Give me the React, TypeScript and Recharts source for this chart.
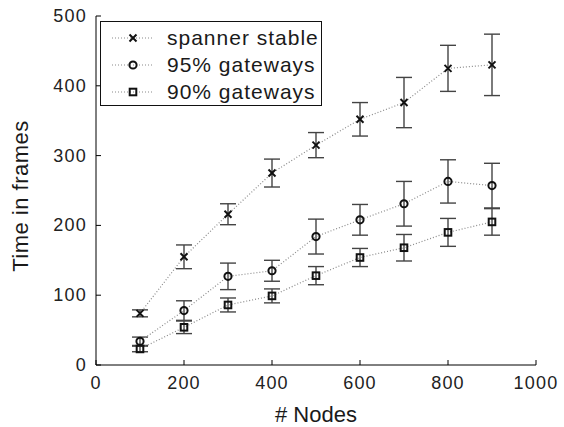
import { ErrorBar, Label, Line, LineChart, XAxis, YAxis } from "recharts";

const nodes = [100, 200, 300, 400, 500, 600, 700, 800, 900];
const spannerMean = [74, 155, 216, 275, 315, 352, 376, 425, 430];
const spannerErr = [5, 17, 15, 20, 18, 24, 36, 33, 44];
const gw95Mean = [34, 78, 127, 135, 184, 208, 231, 263, 257];
const gw95Err = [6, 14, 19, 15, 25, 22, 32, 31, 32];
const gw90Mean = [23, 54, 86, 99, 128, 154, 168, 190, 205];
const gw90Err = [4, 9, 10, 10, 13, 13, 19, 20, 19];

const xTicks = [0, 200, 400, 600, 800, 1000];
const yTicks = [0, 100, 200, 300, 400, 500];

const data = nodes.map((n, i) => ({
  nodes: n,
  spanner: spannerMean[i],
  spannerErr: spannerErr[i],
  gw95: gw95Mean[i],
  gw95Err: gw95Err[i],
  gw90: gw90Mean[i],
  gw90Err: gw90Err[i],
}));

const FONT = '"Liberation Sans", Arial, Helvetica, sans-serif';
const LINE_GREY = "#8a8a8a";

type Shape = "cross" | "circle" | "square";

function Marker({ cx, cy, shape }: { cx: number; cy: number; shape: Shape }) {
  if (shape === "cross") {
    const r = 3.5;
    return (
      <g stroke="#111" strokeWidth={2}>
        <line x1={cx - r} y1={cy - r} x2={cx + r} y2={cy + r} />
        <line x1={cx - r} y1={cy + r} x2={cx + r} y2={cy - r} />
      </g>
    );
  }
  if (shape === "circle") {
    return <circle cx={cx} cy={cy} r={3.6} fill="none" stroke="#111" strokeWidth={2} />;
  }
  return <rect x={cx - 3.3} y={cy - 3.3} width={6.6} height={6.6} fill="none" stroke="#111" strokeWidth={2} />;
}

const makeDot = (shape: Shape) => (props: any) => (
  <Marker key={`${shape}-${props.index}`} cx={props.cx} cy={props.cy} shape={shape} />
);

const BottomTick = (props: any) => {
  const { x, y, payload } = props;
  return (
    <g>
      <line x1={x} y1={y} x2={x} y2={y - 5} stroke="#000" />
      <text x={x} y={y + 24} textAnchor="middle" fontSize={18} letterSpacing={1.2} fontFamily={FONT} fill="#222">
        {payload.value}
      </text>
    </g>
  );
};

const TopTick = (props: any) => {
  const { x, y } = props;
  return <line x1={x} y1={y} x2={x} y2={y + 5} stroke="#000" />;
};

const LeftTick = (props: any) => {
  const { x, y, payload } = props;
  return (
    <g>
      <line x1={x} y1={y} x2={x + 5} y2={y} stroke="#000" />
      <text x={x - 9} y={y + 6} textAnchor="end" fontSize={18} letterSpacing={1.2} fontFamily={FONT} fill="#222">
        {payload.value}
      </text>
    </g>
  );
};

const RightTick = (props: any) => {
  const { x, y } = props;
  return <line x1={x} y1={y} x2={x - 5} y2={y} stroke="#000" />;
};

const legendItems: { label: string; shape: Shape }[] = [
  { label: "spanner stable", shape: "cross" },
  { label: "95% gateways", shape: "circle" },
  { label: "90% gateways", shape: "square" },
];

function LegendBox() {
  return (
    <div
      style={{
        position: "absolute",
        left: 100,
        top: 21,
        width: 222,
        height: 85,
        border: "1px solid #111",
        background: "#fff",
        fontFamily: FONT,
        fontSize: 21,
        letterSpacing: 1,
        color: "#1a1a1a",
        boxSizing: "border-box",
        paddingTop: 3,
        whiteSpace: "nowrap",
      }}
    >
      {legendItems.map((item) => (
        <div key={item.label} style={{ display: "flex", alignItems: "center", height: 26.7 }}>
          <svg width={62} height={20} style={{ flex: "none" }}>
            <line x1={11} y1={10} x2={51} y2={10} stroke={LINE_GREY} strokeWidth={1.2} strokeDasharray="1 2" />
            <Marker cx={32} cy={10} shape={item.shape} />
          </svg>
          <span style={{ marginLeft: 4, lineHeight: "20px" }}>{item.label}</span>
        </div>
      ))}
    </div>
  );
}

export default function App() {
  return (
    <div style={{ position: "absolute", left: 0, top: 0, width: 564, height: 427, background: "#fff" }}>
      <LineChart width={564} height={427} data={data} margin={{ top: 16, right: 28, left: 0, bottom: 0 }}>
        <XAxis
          xAxisId="bottom"
          dataKey="nodes"
          type="number"
          domain={[0, 1000]}
          ticks={xTicks}
          height={62}
          tickSize={0}
          tickMargin={0}
          tickLine={false}
          tick={<BottomTick />}
          axisLine={{ stroke: "#000" }}
          interval={0}
        >
          <Label
            value="# Nodes"
            position="insideBottom"
            offset={5}
            style={{ fontSize: 22, fontFamily: FONT, fill: "#1a1a1a" }}
          />
        </XAxis>
        <XAxis
          xAxisId="top"
          orientation="top"
          dataKey="nodes"
          type="number"
          domain={[0, 1000]}
          ticks={xTicks}
          height={0}
          tickSize={0}
          tickMargin={0}
          tickLine={false}
          tick={<TopTick />}
          axisLine={{ stroke: "#000" }}
          interval={0}
        />
        <YAxis
          yAxisId="left"
          type="number"
          domain={[0, 500]}
          ticks={yTicks}
          width={96}
          tickSize={0}
          tickMargin={0}
          tickLine={false}
          tick={<LeftTick />}
          axisLine={{ stroke: "#000" }}
          interval={0}
        >
          <Label
            content={() => (
              <text
                x={28}
                y={196}
                transform="rotate(-90 28 196)"
                textAnchor="middle"
                fontSize={22}
                letterSpacing={0.5}
                fontFamily={FONT}
                fill="#1a1a1a"
              >
                Time in frames
              </text>
            )}
          />
        </YAxis>
        <YAxis
          yAxisId="right"
          orientation="right"
          type="number"
          domain={[0, 500]}
          ticks={yTicks}
          width={0}
          tickSize={0}
          tickMargin={0}
          tickLine={false}
          tick={<RightTick />}
          axisLine={{ stroke: "#000" }}
          interval={0}
        />
        <Line
          xAxisId="bottom"
          yAxisId="left"
          dataKey="spanner"
          stroke={LINE_GREY}
          strokeWidth={1.2}
          strokeDasharray="1 2"
          dot={makeDot("cross")}
          activeDot={false}
          isAnimationActive={false}
        >
          <ErrorBar dataKey="spannerErr" width={8} stroke="#444" strokeWidth={1.4} direction="y" />
        </Line>
        <Line
          xAxisId="bottom"
          yAxisId="left"
          dataKey="gw95"
          stroke={LINE_GREY}
          strokeWidth={1.2}
          strokeDasharray="1 2"
          dot={makeDot("circle")}
          activeDot={false}
          isAnimationActive={false}
        >
          <ErrorBar dataKey="gw95Err" width={8} stroke="#444" strokeWidth={1.4} direction="y" />
        </Line>
        <Line
          xAxisId="bottom"
          yAxisId="left"
          dataKey="gw90"
          stroke={LINE_GREY}
          strokeWidth={1.2}
          strokeDasharray="1 2"
          dot={makeDot("square")}
          activeDot={false}
          isAnimationActive={false}
        >
          <ErrorBar dataKey="gw90Err" width={8} stroke="#444" strokeWidth={1.4} direction="y" />
        </Line>
      </LineChart>
      <LegendBox />
    </div>
  );
}
